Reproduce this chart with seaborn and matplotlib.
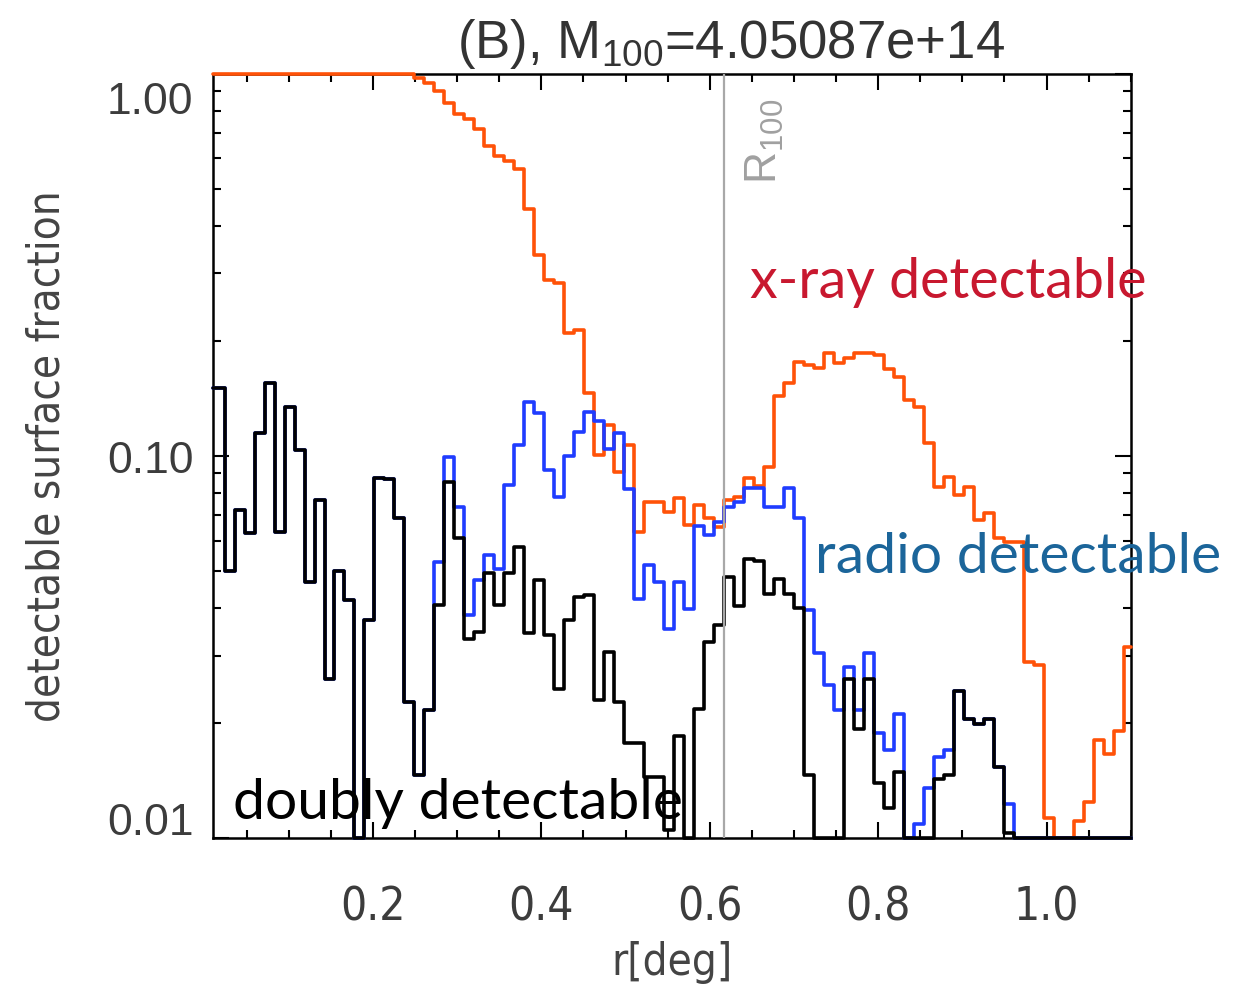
import os
import numpy as np
import pandas as pd
import matplotlib
matplotlib.use("Agg")
import matplotlib.pyplot as plt
import seaborn as sns
from matplotlib import font_manager as fm
from matplotlib.font_manager import FontProperties
from matplotlib.transforms import ScaledTranslation
from matplotlib.ticker import FixedLocator, LogLocator, NullFormatter, MultipleLocator

# ---------------- data ----------------
BIN_W = 0.01187          # radial bin width [deg]; bins start at r = 0
R100 = 0.6164            # position of the R_100 marker [deg]

XRAY = [1.0] * 21 + [
    0.976, 0.947, 0.900, 0.839, 0.785, 0.759, 0.714, 0.646, 0.608, 0.590,
    0.561, 0.441, 0.336, 0.289, 0.283, 0.2095, 0.2137, 0.146, 0.1005, 0.120,
    0.0909, 0.1067, 0.0632, 0.0758, 0.0758, 0.0714, 0.0774, 0.0659, 0.0743, 0.0686,
    0.0652, 0.0766, 0.0781, 0.0873, 0.0834, 0.0932, 0.1435, 0.155, 0.1755, 0.1729,
    0.1695, 0.1856, 0.1747, 0.1805, 0.1856, 0.186, 0.1837, 0.169, 0.161, 0.140,
    0.134, 0.1078, 0.083, 0.0882, 0.0789, 0.083, 0.0679, 0.0707, 0.0608, 0.0596,
    0.0596, 0.0289, 0.0283, 0.0113, 0.0, 0.0, 0.0111, 0.0124, 0.018, 0.0166,
    0.0191, 0.0316]

RADIO = [
    0.150, 0.150, 0.050, 0.072, 0.0627, 0.1145, 0.155, 0.063, 0.1345, 0.1036,
    0.0468, 0.0766, 0.0261, 0.050, 0.0419, 0.0, 0.0371, 0.0873, 0.087, 0.0686,
    0.0227, 0.0146, 0.0216, 0.0528, 0.0995, 0.0736, 0.0383, 0.0473, 0.055, 0.0507,
    0.0838, 0.1067, 0.138, 0.129, 0.0918, 0.0781, 0.0997, 0.1157, 0.1305, 0.1235,
    0.104, 0.1145, 0.0818, 0.0423, 0.0517, 0.0468, 0.0353, 0.0468, 0.0398, 0.0655,
    0.062, 0.0672, 0.0736, 0.0755, 0.0822, 0.0822, 0.0735, 0.0735, 0.0822, 0.0686,
    0.0394, 0.0305, 0.0252, 0.0216, 0.028, 0.0216, 0.0304, 0.0188, 0.017, 0.0211,
    0.0, 0.0109, 0.0135, 0.0163, 0.017, 0.0243, 0.0205, 0.0199, 0.0205, 0.0153,
    0.0123, 0.0, 0.0, 0.0, 0.0, 0.0, 0.0, 0.0, 0.0, 0.0,
    0.0, 0.0, 0.0]

DOUBLY = [
    0.150, 0.150, 0.050, 0.072, 0.0627, 0.1145, 0.155, 0.063, 0.1345, 0.1036,
    0.0468, 0.0766, 0.0261, 0.050, 0.0419, 0.0, 0.0371, 0.0873, 0.087, 0.0686,
    0.0227, 0.0146, 0.0216, 0.0406, 0.0855, 0.0608, 0.0332, 0.0346, 0.0492, 0.0406,
    0.0492, 0.0578, 0.0343, 0.0473, 0.0339, 0.0246, 0.0371, 0.0426, 0.0432, 0.0229,
    0.0307, 0.0227, 0.0177, 0.0177, 0.0144, 0.0144, 0.0105, 0.0185, 0.0, 0.0218,
    0.0326, 0.036, 0.0482, 0.0404, 0.0536, 0.053, 0.0436, 0.0475, 0.0436, 0.040,
    0.0146, 0.0, 0.0, 0.0, 0.0261, 0.0193, 0.0261, 0.0139, 0.012, 0.0149,
    0.0, 0.0, 0.0, 0.0143, 0.0146, 0.0243, 0.0205, 0.0199, 0.0205, 0.0153,
    0.0103, 0.0, 0.0, 0.0, 0.0, 0.0, 0.0, 0.0, 0.0, 0.0,
    0.0, 0.0, 0.0]

SERIES = ["x-ray", "radio", "doubly"]
COLORS = {"x-ray": "#ff5208", "radio": "#1f3cff", "doubly": "#000000"}

XTICKS = [0.2, 0.4, 0.6, 0.8, 1.0]
XTICKLABELS = ["0.2", "0.4", "0.6", "0.8", "1.0"]
YTICKS = [0.01, 0.1, 1.0]
YTICKLABELS = ["0.01", "0.10", "1.00"]
XMIN, XMAX = 0.01, 1.1
YMIN, YMAX = 0.01, 1.0

TITLE = r"(B), M$_{100}$=4.05087e+14"
XLABEL = "r[deg]"
YLABEL = "detectable surface fraction"

# ---------------- style ----------------
sns.set_style("ticks")
names = {f.name for f in fm.fontManager.ttflist}
ANNOT = "Lato" if "Lato" in names else "DejaVu Sans"
plt.rcParams["font.family"] = ["Liberation Sans", "DejaVu Sans"]
plt.rcParams["mathtext.fontset"] = "custom"
plt.rcParams["mathtext.rm"] = "Liberation Sans"
plt.rcParams["mathtext.it"] = "Liberation Sans:italic"
plt.rcParams["mathtext.bf"] = "Liberation Sans:bold"

# look for a narrow / condensed sans face for axis labels
narrow_file = None
for pattern in ("liberationsansnarrow-regular", "dejavusanscondensed.ttf"):
    for f in fm.fontManager.ttflist:
        if pattern in os.path.basename(f.fname).lower():
            narrow_file = f.fname
            break
    if narrow_file:
        break


def narrow_font(size):
    if narrow_file:
        return FontProperties(fname=narrow_file, size=size)
    return FontProperties(family="Liberation Sans", size=size)


# ---------------- long table for seaborn ----------------
rows = []
for name, vals in zip(SERIES, [XRAY, RADIO, DOUBLY]):
    vals = np.asarray(vals, dtype=float)
    edges = np.arange(len(vals) + 1) * BIN_W
    xs = np.clip(edges, XMIN, XMAX)
    ys = np.clip(np.append(vals, vals[-1]), YMIN, YMAX)
    for x, y in zip(xs, ys):
        rows.append({"r": x, "frac": y, "series": name})
df = pd.DataFrame(rows)

fig = plt.figure(figsize=(12.49, 9.98), dpi=100)
ax = fig.add_axes([213 / 1249, 1 - 838 / 998, (1130.7 - 213) / 1249, (838 - 73.5) / 998])

sns.lineplot(data=df, x="r", y="frac", hue="series", hue_order=SERIES,
             palette=COLORS, drawstyle="steps-post", estimator=None, sort=False,
             legend=False, linewidth=2.6, zorder=3, clip_on=False, ax=ax)

ax.set_yscale("log")
ax.set_xlim(XMIN, XMAX)
ax.set_ylim(YMIN, YMAX)

ax.axvline(R100, color="#a8a8a8", lw=1.6, zorder=4)

# ticks
ax.xaxis.set_major_locator(FixedLocator(XTICKS))
ax.set_xticklabels(XTICKLABELS)
ax.xaxis.set_minor_locator(MultipleLocator(0.05))
ax.yaxis.set_major_locator(FixedLocator(YTICKS))
ax.set_yticklabels(YTICKLABELS)
ax.yaxis.set_minor_locator(LogLocator(base=10, subs=np.arange(2, 10) * 1.0, numticks=20))
ax.yaxis.set_minor_formatter(NullFormatter())
ax.tick_params(which="both", direction="in", top=True, right=True,
               labeltop=False, labelright=False, width=1.5, color="black",
               labelcolor="#3c3c3c")
ax.tick_params(which="major", length=11.5)
ax.tick_params(which="minor", length=6)
ax.tick_params(axis="y", which="major", labelsize=32, pad=14)
ax.tick_params(axis="x", which="major", pad=34)
xfp = narrow_font(33)
for lbl in ax.get_xticklabels():
    lbl.set_fontproperties(xfp)
for sp in ax.spines.values():
    sp.set_linewidth(1.8)
    sp.set_color("black")

ax.set_xlabel(XLABEL, fontproperties=narrow_font(31.5), color="#444444", labelpad=8)
ax.set_ylabel(YLABEL, fontproperties=narrow_font(31.5), color="#444444", labelpad=28)

# y tick label vertical placement as in the reference
yt = ax.yaxis.get_major_ticks()
yt[0].label1.set_verticalalignment("baseline")
yt[1].label1.set_verticalalignment("center")
yt[2].label1.set_verticalalignment("top")
for t, dy in zip(yt, [2, -4, -6]):
    t.label1.set_transform(t.label1.get_transform() +
                           ScaledTranslation(0, dy / 72, fig.dpi_scale_trans))

# title
fig.text(731 / 1249, 1 - 58 / 998, TITLE, ha="center", va="baseline",
         fontsize=38, color="#333333")

# R100 marker label
ax.text(0.6656, 0.5125, r"R$_{100}$", rotation=90, ha="center", va="bottom",
        fontsize=32, color="#a0a0a0", zorder=5)

# annotations
ax.text(0.6478, 0.2592, "x-ray detectable", family=ANNOT, fontsize=40,
        color="#c8182f", ha="left", va="baseline", zorder=6)
ax.text(0.7250, 0.0493, "radio detectable", family=ANNOT, fontsize=41,
        color="#1b659a", ha="left", va="baseline", zorder=6)
ax.text(0.0342, 0.01124, "doubly detectable", family=ANNOT, fontsize=41,
        color="#000000", ha="left", va="baseline", zorder=6)

fig.savefig("out.png", dpi=100)
